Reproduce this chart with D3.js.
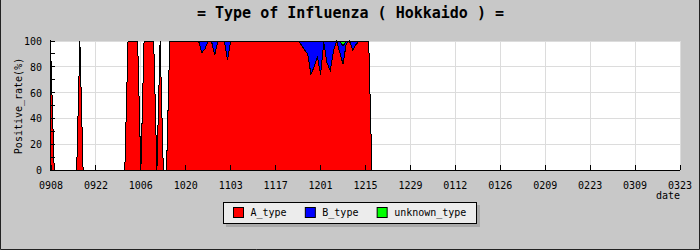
<!DOCTYPE html>
<html>
<head>
<meta charset="utf-8">
<script src="https://cdn.jsdelivr.net/npm/d3@7"></script>
<style>
  body { margin: 0; background: #c8c8c8; }
  text { font-family: "DejaVu Sans Mono", monospace; fill: #000; }
</style>
</head>
<body>
<svg id="chart" width="700" height="250"></svg>
<script>
// Positive rate (%) by type, one value per day starting 0908
const firstDay = "0908";

const aType = [
   85,   0,   0,   0,   0,   0,   0,   0,   0, 100,
    0,   0,   0,   0,   0,   0,   0,   0,   0,   0,
    0,   0,   0,   0, 100, 100, 100, 100,   0, 100,
  100, 100, 100,   0, 100,   0,   0, 100, 100, 100,
  100, 100, 100, 100, 100, 100, 100,  91,  94, 100,
  100,  89, 100, 100, 100,  85, 100, 100, 100, 100,
  100, 100, 100, 100, 100, 100, 100, 100, 100, 100,
  100, 100, 100, 100, 100, 100, 100, 100,  97,  93,
   90,  74,  80,  88,  74,  99,  83,  77,  92, 100,
   91,  82,  98, 100,  93,  97, 100, 100, 100, 100,
    0
];

const bType = [
    0,   0,   0,   0,   0,   0,   0,   0,   0,   0,
    0,   0,   0,   0,   0,   0,   0,   0,   0,   0,
    0,   0,   0,   0,   0,   0,   0,   0,   0,   0,
    0,   0,   0,   0,   0,   0,   0,   0,   0,   0,
    0,   0,   0,   0,   0,   0,   0,   9,   6,   0,
    0,  11,   0,   0,   0,  15,   0,   0,   0,   0,
    0,   0,   0,   0,   0,   0,   0,   0,   0,   0,
    0,   0,   0,   0,   0,   0,   0,   0,   3,   7,
   10,  26,  20,  12,  26,   1,  17,  23,   8,   0,
    9,  14,   2,   0,   7,   3,   0,   0,   0,   0,
    0
];

const unknownType = [
    0,   0,   0,   0,   0,   0,   0,   0,   0,   0,
    0,   0,   0,   0,   0,   0,   0,   0,   0,   0,
    0,   0,   0,   0,   0,   0,   0,   0,   0,   0,
    0,   0,   0,   0,   0,   0,   0,   0,   0,   0,
    0,   0,   0,   0,   0,   0,   0,   0,   0,   0,
    0,   0,   0,   0,   0,   0,   0,   0,   0,   0,
    0,   0,   0,   0,   0,   0,   0,   0,   0,   0,
    0,   0,   0,   0,   0,   0,   0,   0,   0,   0,
    0,   0,   0,   0,   0,   0,   0,   0,   0,   0,
    0,   4,   0,   0,   0,   0,   0,   0,   0,   0,
    0
];

const seriesNames = ["A_type", "B_type", "unknown_type"];
const seriesColors = ["#ff0000", "#0000ff", "#00ff00"];

const xTickLabels = ["0908", "0922", "1006", "1020", "1103", "1117", "1201",
  "1215", "1229", "0112", "0126", "0209", "0223", "0309", "0323"];
const yTickLabels = [0, 20, 40, 60, 80, 100];
const yMinorTicks = [10, 30, 50, 70, 90];

// season runs Sep -> Mar, so months Jul..Dec are the first year
function parseMD(s) {
  const m = +s.slice(0, 2), d = +s.slice(2);
  return new Date(Date.UTC(m >= 7 ? 2009 : 2010, m - 1, d));
}

const start = parseMD(firstDay);
const rows = aType.map((a, i) => ({
  date: d3.utcDay.offset(start, i),
  A_type: a,
  B_type: bType[i],
  unknown_type: unknownType[i]
}));

const plot = { left: 51, right: 680, top: 41, bottom: 170 };

const svg = d3.select("#chart");

const x = d3.scaleUtc()
  .domain([parseMD(xTickLabels[0]), parseMD(xTickLabels[xTickLabels.length - 1])])
  .range([plot.left, plot.right]);

const y = d3.scaleLinear()
  .domain([0, 100])
  .range([plot.bottom, plot.top]);

const px = v => Math.round(v) + 0.5;

// outer background + frame
svg.append("rect")
  .attr("width", 700).attr("height", 250)
  .attr("fill", "#c8c8c8");
svg.append("path")
  .attr("d", "M0.5,0V249.5H699.5V0")
  .attr("fill", "none").attr("stroke", "#222");

// plot area
svg.append("rect")
  .attr("x", plot.left).attr("y", plot.top)
  .attr("width", plot.right - plot.left).attr("height", plot.bottom - plot.top)
  .attr("fill", "#fff");

// grid
svg.append("g").selectAll("line")
  .data(yTickLabels.filter(v => v > 0))
  .join("line")
  .attr("x1", plot.left).attr("x2", plot.right)
  .attr("y1", d => px(y(d) - 0.5)).attr("y2", d => px(y(d) - 0.5))
  .attr("stroke", "#dcdcdc");

svg.append("g").selectAll("line")
  .data(xTickLabels.slice(1))
  .join("line")
  .attr("x1", d => px(x(parseMD(d)) - 0.5)).attr("x2", d => px(x(parseMD(d)) - 0.5))
  .attr("y1", plot.top).attr("y2", plot.bottom)
  .attr("stroke", "#dcdcdc");

// stacked areas
const series = d3.stack().keys(seriesNames)(rows);

const area = d3.area()
  .x(d => x(d.data.date))
  .y0(d => y(d[0]))
  .y1(d => y(d[1]));

const topLine = d3.line()
  .x(d => x(d.data.date))
  .y(d => y(d[1]));

svg.append("g").selectAll("path")
  .data(series)
  .join("path")
  .attr("d", area)
  .attr("fill", (d, i) => seriesColors[i])
  .attr("shape-rendering", "crispEdges");

svg.append("g").selectAll("path")
  .data(series)
  .join("path")
  .attr("d", topLine)
  .attr("fill", "none")
  .attr("stroke", "#000")
  .attr("stroke-width", 1)
  .attr("shape-rendering", "crispEdges");

// axes
svg.append("line")
  .attr("x1", plot.left - 0.5).attr("x2", plot.left - 0.5)
  .attr("y1", plot.top - 1).attr("y2", plot.bottom + 1)
  .attr("stroke", "#000");
svg.append("line")
  .attr("x1", plot.left - 1).attr("x2", plot.right)
  .attr("y1", plot.bottom + 0.5).attr("y2", plot.bottom + 0.5)
  .attr("stroke", "#000");

// y ticks (inward) and labels
svg.append("g").selectAll("line")
  .data(yTickLabels.concat(yMinorTicks))
  .join("line")
  .attr("x1", plot.left).attr("x2", plot.left + 4)
  .attr("y1", d => px(y(d) - 0.5)).attr("y2", d => px(y(d) - 0.5))
  .attr("stroke", "#000");

svg.append("g").selectAll("text")
  .data(yTickLabels)
  .join("text")
  .attr("x", 42)
  .attr("y", d => y(d) + 4)
  .attr("text-anchor", "end")
  .attr("font-size", "10px")
  .text(d => d);

// x ticks (inward) and labels
svg.append("g").selectAll("line")
  .data(xTickLabels)
  .join("line")
  .attr("x1", d => px(x(parseMD(d)) - 0.5)).attr("x2", d => px(x(parseMD(d)) - 0.5))
  .attr("y1", plot.bottom).attr("y2", plot.bottom - 5)
  .attr("stroke", "#000");

svg.append("g").selectAll("text")
  .data(xTickLabels)
  .join("text")
  .attr("x", d => x(parseMD(d)))
  .attr("y", 189)
  .attr("text-anchor", "middle")
  .attr("font-size", "10px")
  .text(d => d);

// titles
svg.append("text")
  .attr("x", 350.5).attr("y", 18)
  .attr("text-anchor", "middle")
  .attr("font-size", "15px")
  .attr("font-weight", "bold")
  .text("= Type of Influenza ( Hokkaido ) =");

svg.append("text")
  .attr("transform", "translate(22,106) rotate(-90)")
  .attr("text-anchor", "middle")
  .attr("font-size", "10px")
  .text("Positive_rate(%)");

svg.append("text")
  .attr("x", 680).attr("y", 199)
  .attr("text-anchor", "end")
  .attr("font-size", "10px")
  .text("date");

// legend
const legend = svg.append("g");
legend.append("rect")
  .attr("x", 226).attr("y", 205).attr("width", 254).attr("height", 22)
  .attr("fill", "#aaaaaa");
legend.append("rect")
  .attr("x", 223.5).attr("y", 202.5).attr("width", 253).attr("height", 21)
  .attr("fill", "#ececec").attr("stroke", "#000");

let lx = 233.5;
seriesNames.forEach((name, i) => {
  legend.append("rect")
    .attr("x", lx).attr("y", 207.5).attr("width", 10).attr("height", 10)
    .attr("fill", seriesColors[i]).attr("stroke", "#000");
  const t = legend.append("text")
    .attr("x", lx + 17).attr("y", 216)
    .attr("font-size", "10px")
    .text(name);
  lx += 17 + t.node().getComputedTextLength() + 18.7;
});
</script>
</body>
</html>
